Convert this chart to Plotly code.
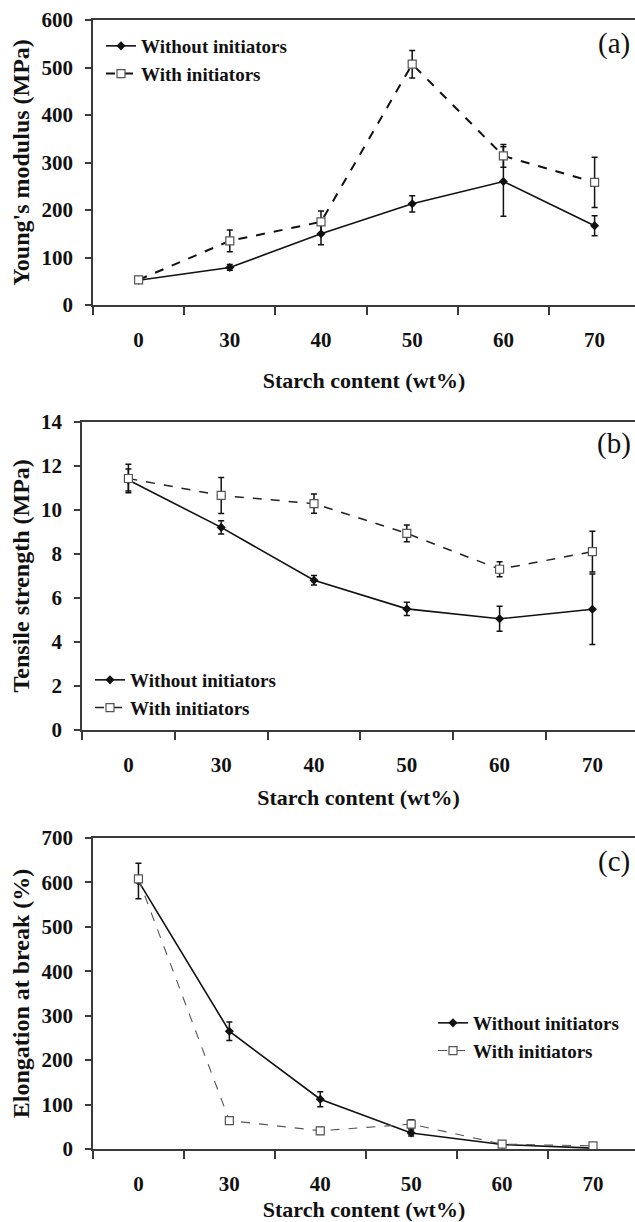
import plotly.graph_objects as go

# Starch content levels (wt%)
starch = ["0", "30", "40", "50", "60", "70"]

# (a) Young's modulus (MPa)
modulus_without = [52, 79, 150, 213, 260, 167]
modulus_without_err = [4, 6, 23, 17, 73, 21]
modulus_with = [53, 135, 175, 507, 314, 258]
modulus_with_err = [4, 23, 23, 29, 24, 53]

# (b) Tensile strength (MPa)
tensile_without = [11.35, 9.2, 6.8, 5.5, 5.05, 5.48]
tensile_without_err = [0.5, 0.3, 0.22, 0.3, 0.57, 1.6]
tensile_with = [11.42, 10.65, 10.28, 8.93, 7.3, 8.1]
tensile_with_err = [0.65, 0.82, 0.44, 0.38, 0.34, 0.92]

# (c) Elongation at break (%)
elong_without = [603, 265, 112, 36, 10, 2]
elong_without_err = [40, 21, 17, 7, 3, 3]
elong_with = [608, 64, 41, 56, 11, 7]
elong_with_err = [5, 5, 8, 10, 4, 3]

W, H = 635, 1222
FONT = "Liberation Serif, Times New Roman, serif"
INK = "#111111"
AXIS = "#3a3a3a"


def py(px):
    """pixel row (from top) -> paper y"""
    return 1 - px / H


def px_x(px):
    return px / W


panels = [
    dict(left=93, top=20, bottom=305, xmax=5.443, yr=[0, 600], dt=100,
         title="Young's modulus (MPa)", tag="(a)", tag_y=43, xstand=22,
         without=(modulus_without, modulus_without_err),
         withi=(modulus_with, modulus_with_err),
         with_color=INK, with_width=2.0,
         legend=dict(x=101, y=27)),
    dict(left=82, top=421.7, bottom=730, xmax=5.459, yr=[0, 14], dt=2,
         title="Tensile strength (MPa)", tag="(b)", tag_y=443, xstand=14,
         without=(tensile_without, tensile_without_err),
         withi=(tensile_with, tensile_with_err),
         with_color="#222222", with_width=1.5,
         legend=dict(x=90, y=661)),
    dict(left=93, top=838, bottom=1149, xmax=5.462, yr=[0, 700], dt=100,
         title="Elongation at break (%)", tag="(c)", tag_y=862, xstand=12,
         without=(elong_without, elong_without_err),
         withi=(elong_with, elong_with_err),
         with_color="#555555", with_width=1.1,
         legend=dict(x=433, y=1004)),
]

fig = go.Figure()
layout = dict(
    width=W, height=H,
    margin=dict(l=0, r=0, t=0, b=0),
    paper_bgcolor="white", plot_bgcolor="white",
    font=dict(family=FONT, color=INK),
    showlegend=True,
)
annotations = []

for i, p in enumerate(panels, start=1):
    sfx = "" if i == 1 else str(i)
    xa, ya = "x" + sfx, "y" + sfx
    leg = "legend" if i == 1 else "legend" + str(i)

    y_no, e_no = p["without"]
    y_wi, e_wi = p["withi"]

    fig.add_trace(go.Scatter(
        x=starch, y=y_no, xaxis=xa, yaxis=ya, legend=leg,
        name="Without initiators",
        mode="lines+markers",
        line=dict(color=INK, width=1.6),
        marker=dict(symbol="diamond", size=7, color=INK),
        error_y=dict(type="data", array=e_no, visible=True,
                     color=INK, thickness=1.5, width=3),
    ))
    fig.add_trace(go.Scatter(
        x=starch, y=y_wi, xaxis=xa, yaxis=ya, legend=leg,
        name="With initiators",
        mode="lines+markers",
        line=dict(color=p["with_color"], width=p["with_width"], dash="dash"),
        marker=dict(symbol="square", size=8, color="white",
                    line=dict(color="#555555", width=1.2)),
        error_y=dict(type="data", array=e_wi, visible=True,
                     color=INK, thickness=1.5, width=3),
    ))

    layout["xaxis" + sfx] = dict(
        type="category", domain=[px_x(p["left"]), 1],
        anchor=ya, range=[-0.5, p["xmax"]],
        showline=True, linecolor=AXIS, linewidth=1.5, mirror=True,
        ticks="outside", ticklen=8, tickwidth=1.5, tickcolor=AXIS,
        tickson="boundaries", showgrid=False, zeroline=False,
        tickfont=dict(family=FONT, size=21, weight="bold", color=INK),
        ticklabelstandoff=15,
        title=dict(text="Starch content (wt%)", standoff=p["xstand"],
                   font=dict(family=FONT, size=22, weight="bold", color=INK)),
        automargin=False, fixedrange=True,
    )
    layout["yaxis" + sfx] = dict(
        domain=[py(p["bottom"]), py(p["top"])], anchor=xa,
        range=p["yr"], dtick=p["dt"], tick0=0,
        showline=True, linecolor=AXIS, linewidth=1.5,
        ticks="outside", ticklen=6, tickwidth=1.5, tickcolor=AXIS,
        showgrid=False, zeroline=False,
        tickfont=dict(family=FONT, size=21, weight="bold", color=INK),
        ticklabelstandoff=8,
        title=dict(text=p["title"], standoff=5,
                   font=dict(family=FONT, size=24, weight="bold", color=INK)),
        automargin=False, fixedrange=True,
    )
    layout[leg] = dict(
        x=px_x(p["legend"]["x"]), y=py(p["legend"]["y"]),
        xanchor="left", yanchor="top", xref="paper", yref="paper",
        bgcolor="rgba(0,0,0,0)", borderwidth=0,
        font=dict(family=FONT, size=19, weight="bold", color=INK),
        traceorder="normal",
    )
    annotations.append(dict(
        text=p["tag"], xref="paper", yref="paper",
        x=px_x(614), y=py(p["tag_y"]), xanchor="center", yanchor="middle",
        showarrow=False, font=dict(family=FONT, size=29, color=INK),
    ))

layout["annotations"] = annotations
fig.update_layout(**layout)
fig.write_html("out.html", include_plotlyjs=True, config={"displayModeBar": False})
